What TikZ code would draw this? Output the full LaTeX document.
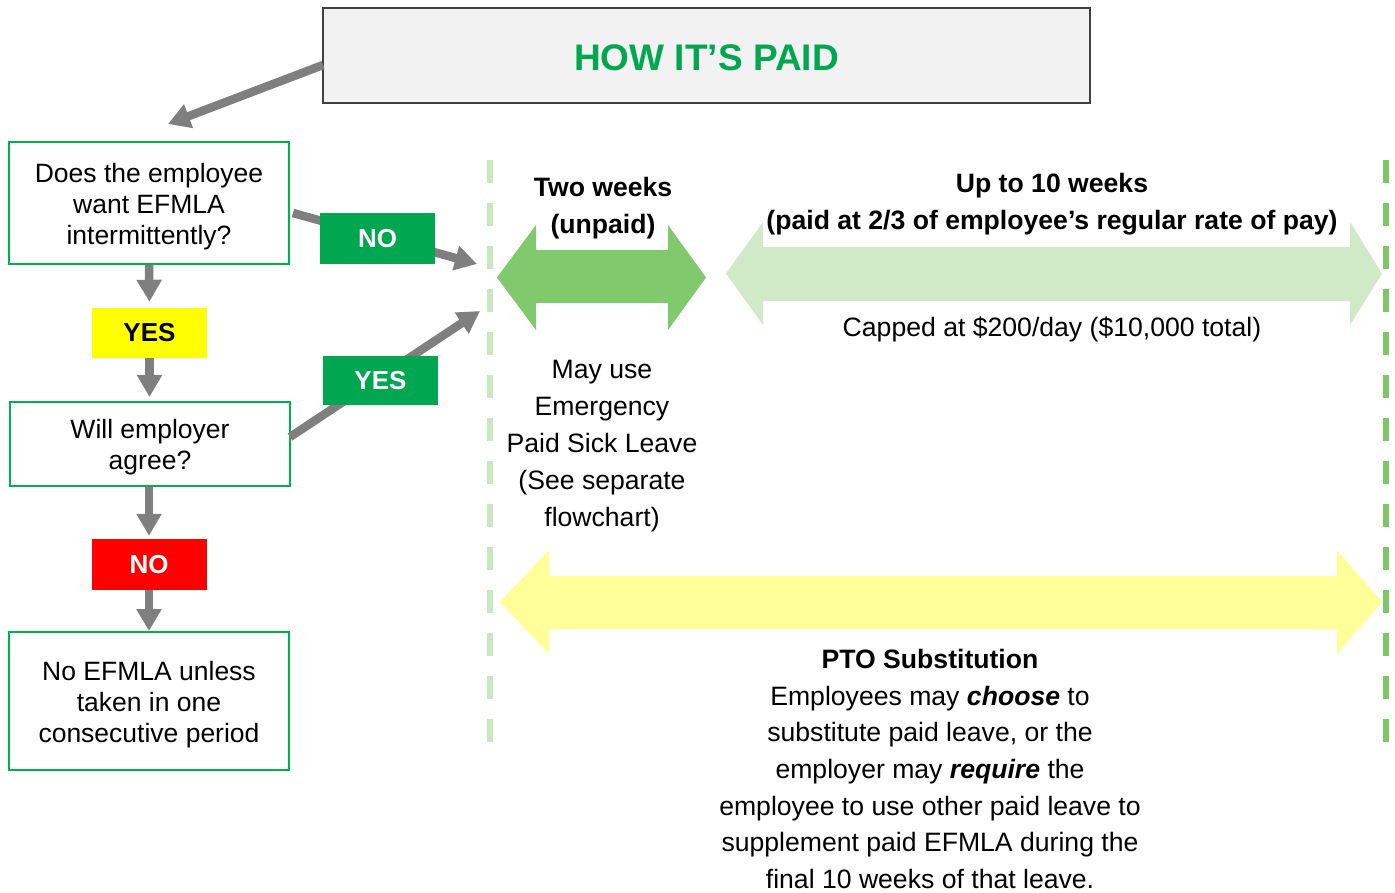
\documentclass[tikz,border=0pt]{standalone}
\usepackage{fontspec}
\setmainfont{Liberation Sans}
\usetikzlibrary{arrows.meta,calc}
\definecolor{boxgreen}{HTML}{00B050}
\definecolor{labgreen}{HTML}{00A650}
\definecolor{arrgray}{HTML}{7F7F7F}
\definecolor{titlefill}{HTML}{F2F2F2}
\definecolor{titledraw}{HTML}{404040}
\definecolor{darkarrow}{HTML}{80C96C}
\definecolor{lightarrow}{HTML}{D0EAC7}
\definecolor{yellowarrow}{HTML}{FFFF99}
\definecolor{dashlight}{HTML}{C9E7C0}
\definecolor{dashdark}{HTML}{7DC66A}
\definecolor{yeslab}{HTML}{FFFF00}
\definecolor{nolab}{HTML}{FF0000}
\tikzset{
  qbox/.style={draw=boxgreen, line width=2pt, fill=white, minimum width=280pt, inner sep=0pt},
  qtext/.style={inner sep=0pt, align=center, font=\fontsize{26.5}{31}\selectfont},
  lab/.style={minimum width=115pt, minimum height=50pt, inner sep=0pt, font=\fontsize{26}{30}\selectfont\bfseries},
  flow/.style={draw=arrgray, line width=8.5pt, -{Triangle[width=24pt,length=22pt]}},
  dashline/.style={line width=6pt, dash pattern=on 23pt off 20pt},
  rtext/.style={align=center, font=\fontsize{26.6}{37}\selectfont},
}
\begin{document}
\begin{tikzpicture}[x=1pt,y=-1pt]
\clip (0,0) rectangle (1395,892);
\fill[white] (0,0) rectangle (1395,892);

% dashed separators
\draw[dashline, draw=dashlight] (490,160) -- (490,752);
\draw[dashline, draw=dashdark] (1386,160) -- (1386,752);

% title
\node[draw=titledraw, line width=1.5pt, fill=titlefill, minimum width=767pt, minimum height=95pt, inner sep=0pt] (title) at (706.5,55.5) {};
\node[inner sep=0pt, font=\fontsize{37}{40}\selectfont\bfseries, text=labgreen] (titletext) at (706.5,57.5) {HOW IT’S PAID};

% question boxes
\node[qbox, minimum height=122pt] (q1) at (149,203) {};
\node[qtext] (q1t) at (149,207) {Does the employee\\want EFMLA\\intermittently?};
\node[qbox, minimum height=84pt] (q2) at (150,444) {};
\node[qtext] (q2t) at (150,447) {Will employer\\agree?};
\node[qbox, minimum height=138pt] (q3) at (149,701) {};
\node[qtext] (q3t) at (149,705) {No EFMLA unless\\taken in one\\consecutive period};

% labels on the left column
\node[lab, fill=yeslab, text=black] (yes1) at (149.5,333) {YES};
\node[lab, fill=nolab, text=white, minimum height=51pt] (no2) at (149,564.5) {NO};

% coordinates for arrows
\coordinate (t1) at (323,65);
\coordinate (t2) at (168,124);
\coordinate (n1) at (293,213);
\coordinate (n2) at (477,264);
\coordinate (y1) at (290,437);
\coordinate (y2) at (480,311);

% arrows
\draw[flow] (t1) -- (t2);
\draw[flow, shorten >=6pt] (q1.south) -- (yes1.north);
\draw[flow, shorten >=4pt] (yes1.south) -- (yes1.south |- q2.north);
\draw[flow, shorten >=3pt] (q2.south -| no2.north) -- (no2.north);
\draw[flow] (no2.south) -- (no2.south |- q3.north);
\draw[flow] (n1) -- (n2);
\draw[flow] (y1) -- (y2);

% green labels on diagonal arrows
\node[lab, fill=labgreen, text=white, minimum height=51pt] (no1) at (377.5,238.5) {NO};
\node[lab, fill=labgreen, text=white, minimum height=49pt] (yes2) at (380.5,380.5) {YES};

% double arrows
\fill[darkarrow] (497,277.5) -- (536,225) -- (536,250) -- (668,250) -- (668,225) -- (706,277.5)
   -- (668,330) -- (668,303) -- (536,303) -- (536,330) -- cycle;
\fill[lightarrow] (726,273.5) -- (763,222) -- (763,247) -- (1350,247) -- (1350,222) -- (1382,273.5)
   -- (1350,325) -- (1350,301) -- (763,301) -- (763,325) -- cycle;
\fill[yellowarrow] (500,602) -- (549,550) -- (549,576) -- (1337,576) -- (1337,550) -- (1382,602)
   -- (1337,654) -- (1337,629) -- (549,629) -- (549,654) -- cycle;

% right-side texts
\node[rtext, font=\fontsize{26.6}{37}\selectfont\bfseries] (two) at (603,208.5) {Two weeks\\(unpaid)};
\node[rtext, font=\fontsize{26.6}{37}\selectfont\bfseries] (ten) at (1052,204.5) {Up to 10 weeks\\(paid at 2/3 of employee’s regular rate of pay)};
\node[rtext] (cap) at (1052,329) {Capped at \$200/day (\$10,000 total)};
\node[rtext] (sick) at (602,446) {May use\\Emergency\\Paid Sick Leave\\(See separate\\flowchart)};
\node[rtext, font=\fontsize{26.6}{36.7}\selectfont] (pto) at (930,769) {\textbf{PTO Substitution}\\Employees may \textbf{\textit{choose}} to\\substitute paid leave, or the\\employer may \textbf{\textit{require}} the\\employee to use other paid leave to\\supplement paid EFMLA during the\\final 10 weeks of that leave.};
\end{tikzpicture}
\end{document}
